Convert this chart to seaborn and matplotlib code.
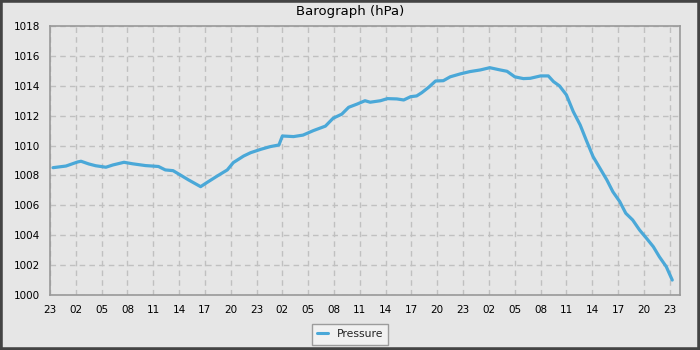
import matplotlib
matplotlib.use("Agg")
import matplotlib.pyplot as plt
import matplotlib.dates as mdates
from matplotlib.patches import Rectangle
import pandas as pd
import seaborn as sns

# Hours since the first 23:00 tick, and pressure readings (hPa)
hours = [0.35, 1.86, 3.2, 3.6, 4.5, 5.3, 6.5, 7.3, 8.6, 9.6, 11.1, 12.6, 13.4, 14.3,
         15.0, 16.1, 17.5, 18.3, 19.4, 20.6, 21.3, 22.5, 23.3, 24.5, 25.6, 26.6,
         27.0, 28.3, 29.4, 30.6, 32.0, 32.9, 33.9, 34.7, 35.7, 36.6, 37.2, 38.4,
         39.2, 40.3, 41.1, 41.9, 42.6, 43.2, 44.0, 44.8, 45.7, 46.5, 47.7, 48.8,
         50.0, 51.1, 52.3, 53.1, 54.0, 55.0, 55.8, 57.0, 57.9, 58.5, 59.2, 60.0,
         60.8, 61.6, 62.3, 63.1, 63.9, 64.7, 65.4, 66.2, 66.9, 67.7, 68.5, 69.3,
         70.1, 70.8, 71.6, 72.3]
pressure = [1008.52, 1008.63, 1008.9, 1008.95, 1008.77, 1008.65, 1008.55, 1008.7,
            1008.88, 1008.78, 1008.66, 1008.6, 1008.37, 1008.32, 1008.08, 1007.7,
            1007.25, 1007.55, 1007.95, 1008.37, 1008.86, 1009.3, 1009.52, 1009.75,
            1009.93, 1010.04, 1010.64, 1010.6, 1010.7, 1011.0, 1011.3, 1011.83,
            1012.1, 1012.56, 1012.78, 1013.0, 1012.9, 1013.0, 1013.14, 1013.12,
            1013.05, 1013.27, 1013.32, 1013.54, 1013.9, 1014.32, 1014.34, 1014.6,
            1014.8, 1014.95, 1015.06, 1015.21, 1015.06, 1014.97, 1014.6, 1014.48,
            1014.5, 1014.66, 1014.66, 1014.28, 1013.99, 1013.39, 1012.27, 1011.38,
            1010.37, 1009.26, 1008.48, 1007.7, 1006.91, 1006.25, 1005.47, 1005.02,
            1004.35, 1003.8, 1003.23, 1002.56, 1001.9, 1001.0]

series_name = "Pressure"
title = "Barograph (hPa)"
start = pd.Timestamp("2024-01-01 23:00")

df = pd.DataFrame({
    "time": [start + pd.Timedelta(hours=h) for h in hours],
    "hPa": pressure,
})

bg = "#e6e6e6"
line_color = "#4aa8d8"

sns.set_style("white")
plt.rcParams["font.family"] = ["DejaVu Sans"]

fig = plt.figure(figsize=(7, 3.5), dpi=100, facecolor=bg)
ax = fig.add_axes([50/700, 1 - 295/350, 630/700, 269/350])
ax.set_facecolor(bg)

sns.lineplot(data=df, x="time", y="hPa", ax=ax, color=line_color,
             linewidth=2.3, label=series_name, legend=False)

ax.set_xlim(start, start + pd.Timedelta(hours=73.2))
ax.set_ylim(1000, 1018)
ax.set_xlabel("")
ax.set_ylabel("")

ax.xaxis.set_major_locator(mdates.HourLocator(byhour=range(2, 24, 3)))
ax.xaxis.set_minor_locator(mdates.HourLocator())
ax.xaxis.set_major_formatter(mdates.DateFormatter("%H"))
ax.set_yticks(range(1000, 1019, 2))
ax.set_yticks(range(1000, 1019, 1), minor=True)

ax.tick_params(axis="both", which="major", direction="out", length=5, width=1,
               color="black", labelsize=7.5, labelcolor="black", pad=2)
ax.tick_params(axis="both", which="minor", direction="out", length=3, width=1,
               color="black")

ax.grid(True, which="major", color="#c0c0c0", linestyle=(0, (4, 3)), linewidth=1)
ax.set_axisbelow(True)
for s in ax.spines.values():
    s.set_visible(True)
    s.set_color("#999999")
    s.set_linewidth(1.2)

fig.text(0.5, 1 - 12/350, title, ha="center", va="center", fontsize=9.5, color="black")

handles, labels = ax.get_legend_handles_labels()
leg = fig.legend(handles, labels, loc="lower center", bbox_to_anchor=(0.5, 0.0),
                 frameon=True, fancybox=False, fontsize=7.8, handlelength=1.0,
                 borderpad=0.5, handletextpad=0.8)
leg.get_frame().set_facecolor("#f4f4f4")
leg.get_frame().set_edgecolor("#888888")
leg.get_frame().set_linewidth(1)
for l in leg.get_lines():
    l.set_linewidth(2.2)

fig.patches.append(Rectangle((0, 0), 1, 1, transform=fig.transFigure, fill=False,
                             edgecolor="#444444", linewidth=4, zorder=10))

fig.savefig("out.png", dpi=100, facecolor=bg)
